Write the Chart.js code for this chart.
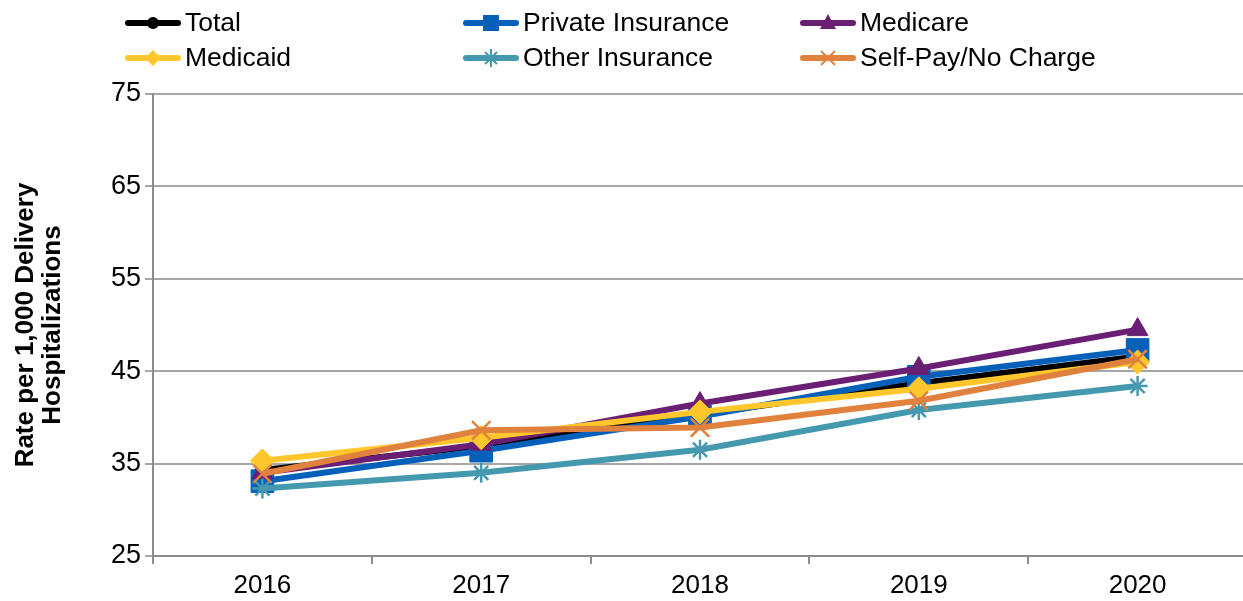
<!DOCTYPE html>
<html>
<head>
<meta charset="utf-8">
<script src="https://cdn.jsdelivr.net/npm/chart.js@4"></script>
<style>
  body { margin: 0; overflow: hidden; background: #fff; font-family: "Liberation Sans", Arial, sans-serif; }
  #grafico { position: absolute; left: 0; top: 0; }
  .leg { position: absolute; display: flex; align-items: center; font-size: 26.5px; color: #000; white-space: nowrap; }
  .leg svg { margin-right: 4px; }
</style>
</head>
<body>
<canvas id="grafico" width="1264" height="601"></canvas>
<div id="legenda"></div>
<script>
var anos = ['2016', '2017', '2018', '2019', '2020'];
var total = [34.3, 36.9, 40.3, 43.7, 46.6];
var privado = [33.1, 36.4, 40.1, 44.4, 47.3];
var medicare = [34.0, 37.1, 41.5, 45.3, 49.5];
var medicaid = [35.3, 37.8, 40.6, 43.1, 46.0];
var outros = [32.3, 34.0, 36.5, 40.8, 43.4];
var particular = [33.9, 38.6, 38.9, 41.8, 46.3];

var series = [
  { label: 'Total', data: total, cor: '#000000', ponto: 'circle', raio: 7 },
  { label: 'Private Insurance', data: privado, cor: '#0560BA', ponto: 'rect', raio: 16 },
  { label: 'Medicare', data: medicare, cor: '#6A1E74', ponto: 'triangle', raio: 12 },
  { label: 'Medicaid', data: medicaid, cor: '#FFC72C', ponto: 'rectRot', raio: 12 },
  { label: 'Other Insurance', data: outros, cor: '#4599AE', ponto: 'star', raio: 10 },
  { label: 'Self-Pay/No Charge', data: particular, cor: '#E0823D', ponto: 'crossRot', raio: 13 }
];

var datasets = series.map(function (s, i) {
  var traco = (s.ponto === 'star' || s.ponto === 'crossRot');
  return {
    label: s.label,
    data: s.data,
    borderColor: s.cor,
    backgroundColor: s.cor,
    borderWidth: 6,
    pointStyle: s.ponto,
    pointRadius: s.raio,
    pointBorderWidth: traco ? 2.5 : 1,
    pointBackgroundColor: s.cor,
    pointBorderColor: s.cor,
    tension: 0,
    order: 6 - i // ultima serie fica por cima, como no Excel
  };
});

var ctx = document.getElementById('grafico').getContext('2d');
var grafico = new Chart(ctx, {
  type: 'line',
  data: { labels: anos, datasets: datasets },
  options: {
    responsive: false,
    devicePixelRatio: 1,
    animation: false,
    layout: { padding: { top: 94, right: 3, bottom: 0, left: 0 } },
    scales: {
      x: {
        offset: true,
        grid: { display: true, drawOnChartArea: false, offset: true, color: '#8c8c8c', lineWidth: 2, tickLength: 8 },
        border: { color: '#8c8c8c', width: 2 },
        ticks: { color: '#000', padding: 6, font: { family: 'Liberation Sans', size: 26 } },
        afterFit: function (s) { s.height = 45; }
      },
      y: {
        min: 25,
        max: 75,
        ticks: { stepSize: 10, color: '#000', padding: 4, font: { family: 'Liberation Sans', size: 27 } },
        grid: { color: '#a6a6a6', lineWidth: 2, tickLength: 8 },
        border: { color: '#8c8c8c', width: 2 },
        title: {
          display: true,
          text: ['Rate per 1,000 Delivery', 'Hospitalizations'],
          color: '#000',
          font: { family: 'Liberation Sans', size: 26, weight: 'bold', lineHeight: 1.05 },
          padding: { top: 12, bottom: 0 }
        },
        afterFit: function (s) { s.width = 153; }
      }
    },
    plugins: {
      legend: { display: false },
      tooltip: { enabled: false }
    }
  }
});

// legenda em html, duas linhas e tres colunas
var colunas = [125, 463, 800];
var linhas = [22, 57];
function marcador(s) {
  var c = s.cor, m = '';
  if (s.ponto === 'circle') m = '<circle cx="28" cy="15" r="6" fill="' + c + '"/>';
  if (s.ponto === 'rect') m = '<rect x="20" y="7" width="16" height="16" fill="' + c + '"/>';
  if (s.ponto === 'triangle') m = '<polygon points="28,6 36,21 20,21" fill="' + c + '"/>';
  if (s.ponto === 'rectRot') m = '<polygon points="28,7 36,15 28,23 20,15" fill="' + c + '"/>';
  if (s.ponto === 'star') m = '<path d="M28 6V24M19 15H37M22 9L34 21M34 9L22 21" stroke="' + c + '" stroke-width="2"/>';
  if (s.ponto === 'crossRot') m = '<path d="M21 8L35 22M35 8L21 22" stroke="' + c + '" stroke-width="2"/>';
  return '<svg width="56" height="30"><line x1="3" y1="15" x2="53" y2="15" stroke="' + c +
    '" stroke-width="6" stroke-linecap="round"/>' + m + '</svg>';
}
var html = '';
series.forEach(function (s, i) {
  var col = i % 3, lin = Math.floor(i / 3);
  html += '<div class="leg" style="left:' + colunas[col] + 'px;top:' + (linhas[lin] - 15) + 'px">' +
    marcador(s) + '<span>' + s.label + '</span></div>';
});
document.getElementById('legenda').innerHTML = html;
</script>
</body>
</html>
